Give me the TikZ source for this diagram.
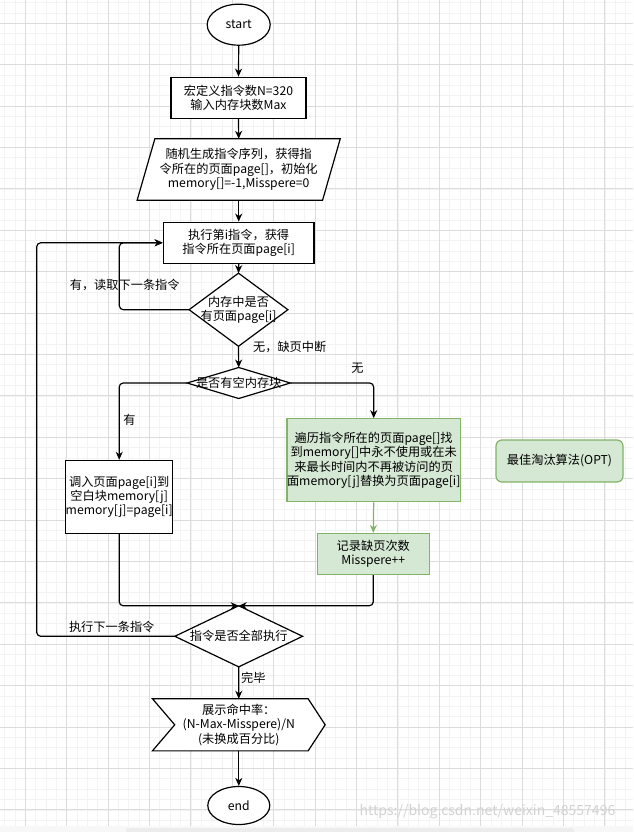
\documentclass[tikz,border=0pt]{standalone}
\usepackage{fontspec}
\setmainfont{Noto Sans CJK SC}
\usepackage{tikz}
\usetikzlibrary{shapes.geometric,arrows.meta}

\definecolor{optfill}{HTML}{D5E8D4}
\definecolor{optline}{HTML}{82B366}
\definecolor{majorgrid}{HTML}{DCDCDC}
\definecolor{minorgrid}{HTML}{F3F3F3}

\pgfdeclarelayer{paper}
\pgfdeclarelayer{shapes}
\pgfsetlayers{paper,shapes,main}

\begin{document}
\begin{tikzpicture}[x=1pt,y=-1pt,
    every node/.style={font=\fontsize{12.2}{14.4}\selectfont,inner sep=0pt,align=center},
    term/.style={ellipse,draw,fill=white,line width=1.2pt,minimum width=63pt,minimum height=41pt},
    proc/.style={rectangle,draw,fill=white,line width=1.4pt},
    optbox/.style={rectangle,draw=optline,fill=optfill,line width=1.2pt},
    holder/.style={rectangle},
    outline/.style={draw,fill=white,line width=1.2pt},
    flow/.style={-{Stealth[length=8pt,width=7pt,inset=2.5pt]},line width=1.2pt,rounded corners=4pt},
    lbl/.style={}]
    \useasboundingbox (0,0) rectangle (633,832);

    % paper with grid
    \begin{pgfonlayer}{paper}
    \fill[white] (0,0) rectangle (633,826);
    \foreach \k in {1,...,61} \draw[minorgrid,line width=0.8pt] ({-5.75+10.35*\k},0) -- ({-5.75+10.35*\k},826);
    \foreach \k in {0,...,79} \draw[minorgrid,line width=0.8pt] (0,{2.6+10.35*\k}) -- (633,{2.6+10.35*\k});
    \foreach \k in {0,...,14} \draw[majorgrid,line width=1pt] ({25.3+41.4*\k},0) -- ({25.3+41.4*\k},826);
    \foreach \k in {0,...,19} \draw[majorgrid,line width=1pt] (0,{23.3+41.4*\k}) -- (633,{23.3+41.4*\k});
    \fill[gray!6] (0,826) rectangle (633,832);
    \fill[gray!15,rounded corners=2pt] (126,828) rectangle (574,834);
    \end{pgfonlayer}

    \node[term] (start) at (238.7,24.7) {start};
    \node[proc,minimum width=135pt,minimum height=41pt] (def) at (238.5,97.8) {宏定义指令数N=320\\输入内存块数Max};
    \node[holder,minimum width=202.7pt,minimum height=61pt] (init) at (238.7,169.5) {随机生成指令序列，获得指\\令所在的页面page[]，初始化\\memory[]=-1,Misspere=0};
    \node[proc,minimum width=150.7pt,minimum height=41pt] (exec) at (238.7,242.8) {执行第i指令，获得\\指令所在页面page[i]};
    \node[holder,minimum width=98.4pt,minimum height=72.7pt] (hit) at (238.5,309.7) {内存中是否\\有页面page[i]};
    \node[holder,minimum width=102.7pt,minimum height=30.6pt] (free) at (238.7,383) {是否有空内存块};
    \node[proc,minimum width=104pt,minimum height=73pt] (load) at (119.2,497) {调入页面page[i]到\\空白块memory[j]\\memory[j]=page[i]};
    \node[optbox,minimum width=169pt,minimum height=83pt] (swap) at (373.7,460.3) {遍历指令所在的页面page[]找\\到memory[]中永不使用或在未\\来最长时间内不再被访问的页\\面memory[j]替换为页面page[i]};
    \node[optbox,minimum width=112pt,minimum height=41pt] (miss) at (373.3,554) {记录缺页次数\\Misspere++};
    \node[optbox,rounded corners=6pt,minimum width=127pt,minimum height=42pt] (algo) at (559.5,461) {最佳淘汰算法(OPT)};
    \node[holder,minimum width=127.3pt,minimum height=60.7pt] (done) at (238.7,636.3) {指令是否全部执行};
    \node[holder,minimum width=172.3pt,minimum height=51.7pt] (show) at (238.8,724.8) {展示命中率：\\(N-Max-Misspere)/N\\(未换成百分比)};
    \node[term,minimum width=62pt,minimum height=38pt] (end) at (238.8,805.5) {end};

    % outlines under the texts
    \begin{pgfonlayer}{shapes}
    \draw[outline] ([xshift=17.7pt]init.north west) -- (init.north east) -- ([xshift=-17.7pt]init.south east) -- (init.south west) -- cycle;
    \draw[outline] (hit.north) -- (hit.east) -- (hit.south) -- (hit.west) -- cycle;
    \draw[outline] (free.north) -- (free.east) -- (free.south) -- (free.west) -- cycle;
    \draw[outline] (done.north) -- (done.east) -- (done.south) -- (done.west) -- cycle;
    \draw[outline] (show.north west) -- ([xshift=-17pt]show.north east) -- (show.east) -- ([xshift=-17pt]show.south east) -- (show.south west) -- ([xshift=22.3pt]show.west) -- cycle;
    \end{pgfonlayer}

    \coordinate (back1) at (119.3,309.7);
    \coordinate (back2) at (36.7,636.3);

    \draw[flow] (start.south) -- (def.north);
    \draw[flow] (def.south) -- (init.north);
    \draw[flow] (init.south) -- (exec.north);
    \draw[flow] (exec.south) -- (hit.north);
    \draw[flow] (hit.west) -- (back1) |- (exec.west); % hit
    \draw[flow] (hit.south) -- (free.north); % miss
    \draw[flow] (free.west) -| (load.north);
    \draw[flow] (free.east) -| (swap.north);
    \draw[flow,draw=optline] (swap.south) -- (miss.north);
    \draw[flow] (load.south) |- (done.north);
    \draw[flow] (miss.south) |- (done.north);
    \draw[flow] (done.west) -- (back2) |- (exec.west); % next one
    \draw[flow] (done.south) -- (show.north);
    \draw[flow] (show.south) -- (end.north);

    \node[lbl] (l1) at (124.7,285) {有，读取下一条指令};
    \node[lbl] (l2) at (289.7,346.7) {无，缺页中断};
    \node[lbl] (l3) at (129.5,420) {有};
    \node[lbl] (l4) at (357.5,368.3) {无};
    \node[lbl] (l5) at (111.7,626.7) {执行下一条指令};
    \node[lbl] (l6) at (253.3,678.3) {完毕};

    \node[text=gray!35,font=\fontsize{14}{16}\selectfont] (mark) at (487.5,812) {https://blog.csdn.net/weixin\_48557496};
\end{tikzpicture}
\end{document}
